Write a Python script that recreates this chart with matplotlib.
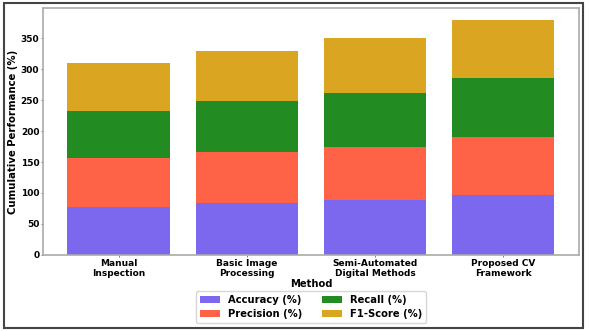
import numpy as np
import matplotlib.pyplot as plt
from matplotlib.patches import Rectangle

# Métodos y métricas
metodos = ['Manual\nInspection', 'Basic Image\nProcessing',
           'Semi-Automated\nDigital Methods', 'Proposed CV\nFramework']
accuracy = [78, 84, 88, 96]
precision = [78, 82, 87, 95]
recall = [77, 82, 87, 95]
f1_score = [77, 82, 88, 94]

series = [('Accuracy (%)', accuracy, 'mediumslateblue'),
          ('Precision (%)', precision, 'tomato'),
          ('Recall (%)', recall, 'forestgreen'),
          ('F1-Score (%)', f1_score, 'goldenrod')]

fig, ax = plt.subplots(figsize=(5.9, 3.31), dpi=100)

x = np.arange(len(metodos))
base = np.zeros(len(metodos))
for nombre, valores, color in series:
    ax.bar(x, valores, 0.8, bottom=base, label=nombre, color=color)
    base += np.array(valores)

ax.set_xticks(x)
ax.set_xticklabels(metodos, fontsize=6.5, fontweight='bold')
ax.tick_params(axis='both', length=1.2, pad=1.5, width=0.6, color='#666666')
ax.tick_params(axis='y', labelsize=6.5)
for lbl in ax.get_yticklabels():
    lbl.set_fontweight('bold')
ax.set_xlabel('Method', fontsize=7.2, fontweight='bold', labelpad=1)
ax.set_ylabel('Cumulative Performance (%)', fontsize=7.3, fontweight='bold',
              labelpad=2)
for s in ax.spines.values():
    s.set_color('#aaaaaa')
    s.set_linewidth(1.2)

ax.legend(loc='upper center', bbox_to_anchor=(0.5, -0.128), ncol=2,
          prop={'weight': 'bold', 'size': 7.2}, labelspacing=0.4)

plt.subplots_adjust(left=0.073, right=0.981, top=0.976, bottom=0.23)

# Marco exterior
fig.add_artist(Rectangle((0.007, 0.009), 0.981, 0.982, transform=fig.transFigure,
                         fill=False, edgecolor='#444444', linewidth=1.5))

fig.savefig('out.png', dpi=100)
